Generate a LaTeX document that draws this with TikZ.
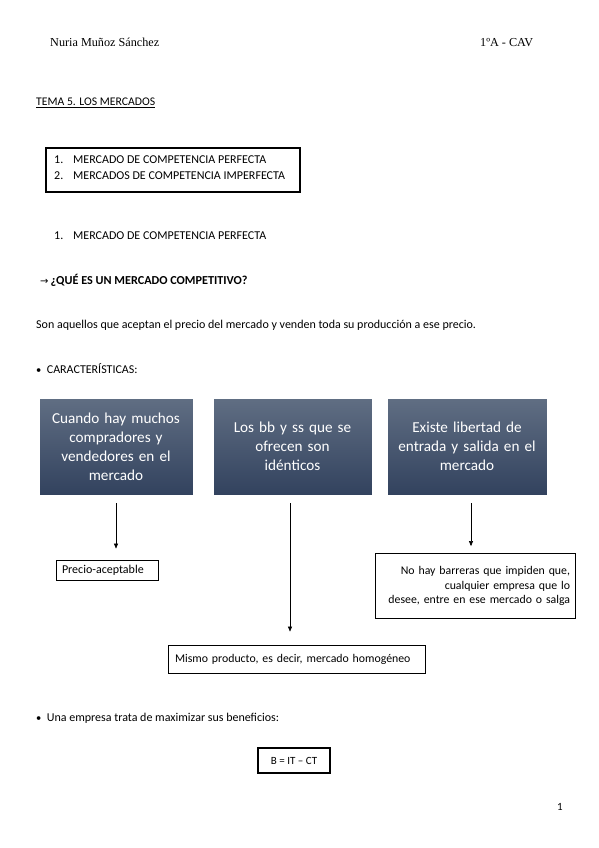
\documentclass[tikz,border=0pt]{standalone}
\usepackage{fontspec}
\setmainfont{Carlito}
\newfontfamily\timesf{Liberation Serif}
\newfontfamily\djv{DejaVu Sans}
\usetikzlibrary{arrows.meta}
\definecolor{boxtop}{RGB}{96,110,131}
\definecolor{boxbot}{RGB}{50,66,94}
\tikzset{
  txt/.style={anchor=base west, inner sep=0pt, font=\fontsize{12}{14}\selectfont},
  capstxt/.style={anchor=base west, inner sep=0pt, font=\fontsize{12}{14}\selectfont},
  hdr/.style={anchor=base west, inner sep=0pt, font=\timesf\fontsize{12.2}{14}\selectfont},
  charbox/.style={draw=white, line width=0.6pt, top color=boxtop, bottom color=boxbot, text=white,
     align=center, font=\fontsize{15.2}{19}\selectfont, inner sep=2pt},
  plainbox/.style={draw=black, line width=0.8pt, font=\fontsize{11.8}{14.5}\selectfont, inner sep=0pt},
  arr/.style={draw=black, line width=0.5pt, -{Triangle[length=5pt,width=4pt]}}
}
\begin{document}
\begin{tikzpicture}[x=1pt,y=-1pt]
\useasboundingbox (0,0) rectangle (599,848);
% header
\node[hdr] (author) at (50,47) {Nuria Muñoz Sánchez};
\node[hdr] (course) at (480,47) {1ºA - CAV};
\node[capstxt, font=\fontsize{11.7}{14}\selectfont] (tema) at (36,106) {\underline{TEMA 5. LOS MERCADOS}};
% list box
\node[draw=black, line width=1.3pt, minimum width=254pt, minimum height=44pt, inner sep=0pt] (listbox) at (173,170) {};
\node[capstxt] (l1n) at (54,163.5) {1.};
\node[capstxt] (l1) at (73,163.5) {MERCADO DE COMPETENCIA PERFECTA};
\node[capstxt] (l2n) at (54,179.5) {2.};
\node[capstxt] (l2) at (73,179.5) {MERCADOS DE COMPETENCIA IMPERFECTA};
% section
\node[capstxt] (s1n) at (54,239.5) {1.};
\node[capstxt] (s1) at (73,239.5) {MERCADO DE COMPETENCIA PERFECTA};
\node[capstxt] (q) at (40,284.5) {{\djv\fontsize{10}{12}\selectfont →}\,{\fontsize{12.2}{14}\selectfont\bfseries ¿QUÉ ES UN MERCADO COMPETITIVO?}};
\node[txt] (def) at (36,328.5) {Son aquellos que aceptan el precio del mercado y venden toda su producción a ese precio.};
\node[capstxt] (car) at (36,373.5) {{\fontsize{10.5}{12}\selectfont•}\ \ CARACTERÍSTICAS:};
% characteristic boxes
\node[charbox, minimum width=154pt, minimum height=97pt, text width=150pt] (b1) at (116,446.5) {Cuando hay muchos\\compradores y\\vendedores en el\\mercado};
\node[charbox, minimum width=159pt, minimum height=97pt, text width=155pt] (b2) at (292.5,446.5) {Los bb y ss que se\\ofrecen son\\idénticos};
\node[charbox, minimum width=160pt, minimum height=97pt, text width=156pt] (b3) at (467,446.5) {Existe libertad de\\entrada y salida en el\\mercado};
% result boxes
\node[plainbox, minimum width=102pt, minimum height=20pt, text width=90pt, align=left, font=\fontsize{12}{14}\selectfont] (p1) at (107,570) {Precio-aceptable};
\node[plainbox, minimum width=200pt, minimum height=65pt, text width=190pt, align=right] (p3) at (475,586) {No hay barreras que impiden que,\\cualquier empresa que lo\\desee, entre en ese mercado o salga};
\node[plainbox, minimum width=257pt, minimum height=28pt, text width=243pt, align=left] (p2) at (296.5,659) {Mismo producto, es decir, mercado homogéneo};
% arrows
\draw[arr, shorten <=8pt, shorten >=11pt] (b1.south) -- (b1.south |- p1.north);
\draw[arr, shorten <=8pt, shorten >=13pt] ([xshift=-2.5pt]b2.south) -- ([xshift=-2.5pt]b2.south |- p2.north);
\draw[arr, shorten <=8pt, shorten >=7pt] ([xshift=4pt]b3.south) -- ([xshift=4pt]b3.south |- p3.north);
% benefits
\node[txt] (ben) at (36,721) {{\fontsize{10.5}{12}\selectfont•}\ \ {\spaceskip=2.7pt Una empresa trata de maximizar sus beneficios:}};
\node[draw=black, line width=1.2pt, minimum width=72pt, minimum height=25pt, inner sep=0pt, font=\fontsize{11}{13}\selectfont] (bf) at (294,760.5) {B = IT – CT};
\node[anchor=base west, inner sep=0pt, font=\fontsize{11}{13}\selectfont] (pg) at (557,810) {1};
\end{tikzpicture}
\end{document}
